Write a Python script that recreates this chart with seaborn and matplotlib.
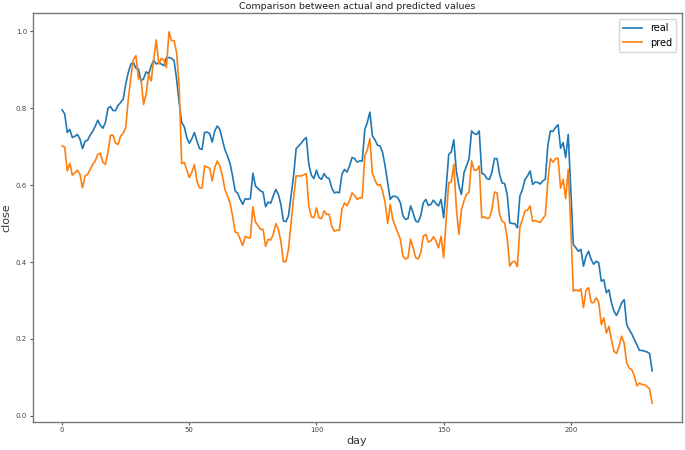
import numpy as np
import pandas as pd
import matplotlib
matplotlib.use('Agg')
import matplotlib.pyplot as plt
import seaborn as sns

# 실제값 (real) - 그림에서 읽은 값
real = [
    0.796, 0.785, 0.737, 0.745, 0.724, 0.727, 0.732, 0.720, 0.695, 0.714,
    0.717, 0.730, 0.740, 0.753, 0.769, 0.756, 0.748, 0.763, 0.800, 0.805,
    0.794, 0.794, 0.808, 0.815, 0.824, 0.863, 0.893, 0.915, 0.919, 0.904,
    0.902, 0.871, 0.877, 0.895, 0.889, 0.910, 0.925, 0.915, 0.919, 0.915,
    0.911, 0.932, 0.932, 0.930, 0.924, 0.876, 0.815, 0.763, 0.752, 0.724,
    0.709, 0.721, 0.737, 0.715, 0.695, 0.693, 0.737, 0.738, 0.734, 0.712,
    0.741, 0.754, 0.745, 0.719, 0.692, 0.676, 0.657, 0.624, 0.585, 0.579,
    0.563, 0.550, 0.565, 0.563, 0.565, 0.631, 0.598, 0.591, 0.585, 0.582,
    0.544, 0.556, 0.553, 0.572, 0.589, 0.576, 0.550, 0.507, 0.505, 0.520,
    0.572, 0.624, 0.695, 0.702, 0.709, 0.718, 0.724, 0.654, 0.626, 0.617,
    0.639, 0.620, 0.615, 0.630, 0.620, 0.617, 0.593, 0.580, 0.582, 0.580,
    0.628, 0.641, 0.634, 0.650, 0.672, 0.669, 0.660, 0.663, 0.663, 0.745,
    0.763, 0.790, 0.728, 0.718, 0.704, 0.702, 0.685, 0.650, 0.606, 0.563,
    0.571, 0.571, 0.567, 0.554, 0.520, 0.511, 0.513, 0.546, 0.528, 0.507,
    0.504, 0.520, 0.554, 0.563, 0.547, 0.550, 0.561, 0.552, 0.546, 0.563,
    0.515, 0.593, 0.680, 0.686, 0.718, 0.637, 0.598, 0.576, 0.632, 0.650,
    0.669, 0.741, 0.734, 0.732, 0.741, 0.631, 0.628, 0.617, 0.615, 0.634,
    0.669, 0.669, 0.628, 0.606, 0.604, 0.576, 0.502, 0.500, 0.500, 0.489,
    0.572, 0.589, 0.615, 0.624, 0.637, 0.602, 0.608, 0.607, 0.603, 0.611,
    0.616, 0.704, 0.741, 0.740, 0.750, 0.757, 0.696, 0.711, 0.672, 0.732,
    0.589, 0.446, 0.437, 0.428, 0.433, 0.389, 0.415, 0.428, 0.407, 0.394,
    0.402, 0.398, 0.350, 0.354, 0.320, 0.328, 0.294, 0.272, 0.261, 0.276,
    0.294, 0.302, 0.237, 0.224, 0.213, 0.198, 0.185, 0.170, 0.170, 0.168,
    0.166, 0.162, 0.117,
]

# 예측값 (pred)
pred = [
    0.702, 0.699, 0.637, 0.657, 0.626, 0.632, 0.639, 0.628, 0.593, 0.624,
    0.628, 0.641, 0.654, 0.663, 0.680, 0.683, 0.660, 0.654, 0.685, 0.730,
    0.730, 0.709, 0.706, 0.728, 0.735, 0.750, 0.824, 0.880, 0.926, 0.937,
    0.877, 0.877, 0.810, 0.837, 0.889, 0.871, 0.928, 0.978, 0.915, 0.930,
    0.926, 0.906, 0.999, 0.976, 0.976, 0.945, 0.858, 0.656, 0.660, 0.639,
    0.620, 0.634, 0.654, 0.611, 0.593, 0.593, 0.650, 0.647, 0.644, 0.611,
    0.646, 0.663, 0.650, 0.624, 0.589, 0.572, 0.554, 0.520, 0.478, 0.476,
    0.459, 0.443, 0.467, 0.463, 0.463, 0.544, 0.504, 0.495, 0.485, 0.485,
    0.441, 0.459, 0.457, 0.472, 0.500, 0.485, 0.454, 0.400, 0.402, 0.433,
    0.502, 0.567, 0.624, 0.624, 0.624, 0.627, 0.630, 0.545, 0.518, 0.515,
    0.541, 0.515, 0.513, 0.533, 0.524, 0.524, 0.493, 0.480, 0.483, 0.482,
    0.537, 0.554, 0.546, 0.559, 0.580, 0.573, 0.563, 0.567, 0.567, 0.676,
    0.692, 0.721, 0.631, 0.613, 0.600, 0.602, 0.585, 0.554, 0.500, 0.550,
    0.511, 0.493, 0.476, 0.459, 0.415, 0.408, 0.411, 0.459, 0.437, 0.411,
    0.408, 0.424, 0.467, 0.472, 0.452, 0.455, 0.466, 0.454, 0.437, 0.467,
    0.411, 0.511, 0.606, 0.608, 0.654, 0.541, 0.472, 0.535, 0.559, 0.576,
    0.582, 0.663, 0.639, 0.639, 0.650, 0.515, 0.518, 0.513, 0.515, 0.537,
    0.582, 0.580, 0.524, 0.506, 0.502, 0.463, 0.389, 0.400, 0.402, 0.388,
    0.491, 0.511, 0.533, 0.535, 0.546, 0.506, 0.508, 0.505, 0.503, 0.513,
    0.522, 0.612, 0.669, 0.660, 0.669, 0.670, 0.592, 0.615, 0.565, 0.641,
    0.493, 0.324, 0.328, 0.324, 0.330, 0.281, 0.327, 0.333, 0.295, 0.294,
    0.307, 0.295, 0.237, 0.255, 0.215, 0.233, 0.198, 0.168, 0.162, 0.181,
    0.207, 0.189, 0.137, 0.124, 0.120, 0.104, 0.078, 0.085, 0.081, 0.081,
    0.076, 0.070, 0.033,
]

days = list(range(len(real)))


def main():
    df = pd.DataFrame({'day': days, 'real': real, 'pred': pred})

    fig = plt.figure(figsize=(6.85, 4.5), dpi=100)
    ax = fig.add_axes([0.0477, 0.063, 0.9474, 0.9076])

    sns.lineplot(data=df, x='day', y='real', ax=ax, label='real',
                 color='#1f77b4', linewidth=1.2)
    sns.lineplot(data=df, x='day', y='pred', ax=ax, label='pred',
                 color='#ff7f0e', linewidth=1.2)

    # 축 스타일 (원본은 축소된 이미지라 테두리가 회색으로 보임)
    for sp in ax.spines.values():
        sp.set_color('#777777')
        sp.set_linewidth(1.0)

    ax.set_title('Comparison between actual and predicted values',
                 fontsize=6.8, color='#222222', pad=3)
    ax.set_xlabel('day', fontsize=8, color='#333333', labelpad=2)
    ax.set_ylabel('close', fontsize=8, color='#333333', labelpad=3)
    ax.tick_params(labelsize=5, length=2.5, pad=1.5, colors='#555555',
                   labelcolor='#444444')
    ax.set_xticks([0, 50, 100, 150, 200])
    ax.set_yticks([0.0, 0.2, 0.4, 0.6, 0.8, 1.0])
    ax.legend(loc='upper right', fontsize=7, borderaxespad=0.6)

    fig.savefig('out.png', dpi=100)


if __name__ == '__main__':
    main()
